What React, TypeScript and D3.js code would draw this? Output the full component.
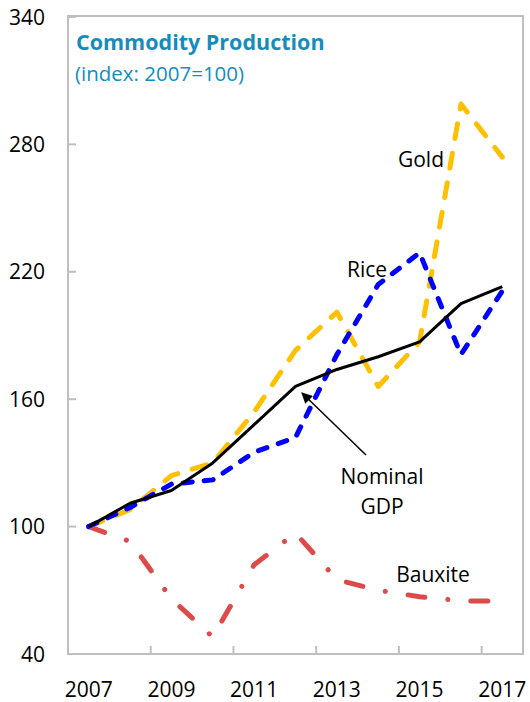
import React from "react";
import * as d3 from "d3";

const years = ["2007","2008","2009","2010","2011","2012","2013","2014","2015","2016","2017"];
const gdp = [100, 111, 117, 130, 148, 166, 174, 180, 187, 205, 213];
const rice = [100, 109, 120, 122, 135, 142, 181, 214, 229, 181, 211];
const gold = [100, 108, 124, 130, 154, 183, 201, 166, 187, 299, 274];
const bauxite = [100, 93, 66, 48, 82, 97, 75, 70, 67, 65, 65];
const yTicks = [40, 100, 160, 220, 280, 340];
const xLabels = ["2007","2009","2011","2013","2015","2017"];

const W = 530, H = 702;
const L = 68, R = 523, T = 17, B = 654;
const FONT = "'Open Sans', 'Noto Sans', sans-serif";
const FS = 21;

export default function App() {
  const x = d3.scaleBand<string>().domain(years).range([L, R]).padding(0);
  const y = d3.scaleLinear().domain([40, 340]).range([B, T]);
  const cx = (yr: string) => (x(yr) as number) + x.bandwidth() / 2;
  const line = d3.line<number>().x((_, i) => cx(years[i])).y((d) => y(d));

  const series = [
    { data: bauxite, color: "#dc4a4a", width: 5, dash: "17 23 0.1 23", cap: "round" },
    { data: gold, color: "#FFC000", width: 5, dash: "15 15", cap: "round" },
    { data: rice, color: "#0000FF", width: 5, dash: "9 12", cap: "round" },
    { data: gdp, color: "#000000", width: 3, dash: "none", cap: "butt" },
  ];

  const boundaryTicks = years.filter((_, i) => i > 0 && i % 2 === 0);

  return (
    <svg width={W} height={H} style={{ position: "absolute", left: 0, top: 0 }} fontFamily={FONT}>
      <rect x={0} y={0} width={W} height={H} fill="#fff" />
      {/* frame */}
      <rect x={L} y={T - 1} width={R - L} height={B - T + 1} fill="none" stroke="#bfbfbf" strokeWidth={2} />
      {/* y ticks */}
      {yTicks.map((t) => (
        <g key={t}>
          <line x1={L} x2={L + 8} y1={y(t)} y2={y(t)} stroke="#bfbfbf" strokeWidth={2} />
          <text x={45} y={y(t) + 7.5} textAnchor="end" fontSize={FS} fill="#000">{t}</text>
        </g>
      ))}
      {/* x ticks */}
      {boundaryTicks.map((yr) => (
        <line key={yr} x1={x(yr) as number} x2={x(yr) as number} y1={B} y2={B - 8} stroke="#bfbfbf" strokeWidth={2} />
      ))}
      {xLabels.map((yr) => (
        <text key={yr} x={cx(yr)} y={697} textAnchor="middle" fontSize={FS} fill="#000">{yr}</text>
      ))}
      {/* lines */}
      {series.map((s, i) => (
        <path key={i} d={line(s.data) || ""} fill="none" stroke={s.color} strokeWidth={s.width}
          strokeDasharray={s.dash} strokeLinecap={s.cap as any} strokeLinejoin="round" />
      ))}
      {/* title */}
      <text x={76} y={50} fontSize={21.5} fontWeight="bold" fill="#168cbd">Commodity Production</text>
      <text x={75} y={81} fontSize={20.5} fill="#168cbd">(index: 2007=100)</text>
      {/* annotations */}
      <text x={421} y={167} textAnchor="middle" fontSize={FS} fill="#000">Gold</text>
      <text x={367} y={277} textAnchor="middle" fontSize={FS} fill="#000">Rice</text>
      <text x={382} y={484} textAnchor="middle" fontSize={FS} fill="#000">Nominal</text>
      <text x={382} y={514} textAnchor="middle" fontSize={FS} fill="#000">GDP</text>
      <text x={433} y={582} textAnchor="middle" fontSize={FS} fill="#000">Bauxite</text>
      {/* arrow */}
      <defs>
        <marker id="ah" viewBox="0 0 10 10" refX={9} refY={5} markerWidth={12} markerHeight={11} markerUnits="userSpaceOnUse" orient="auto">
          <path d="M0,0 L10,5 L0,10 z" fill="#000" />
        </marker>
      </defs>
      <line x1={366} y1={455} x2={302} y2={393} stroke="#000" strokeWidth={1.5} markerEnd="url(#ah)" />
    </svg>
  );
}
